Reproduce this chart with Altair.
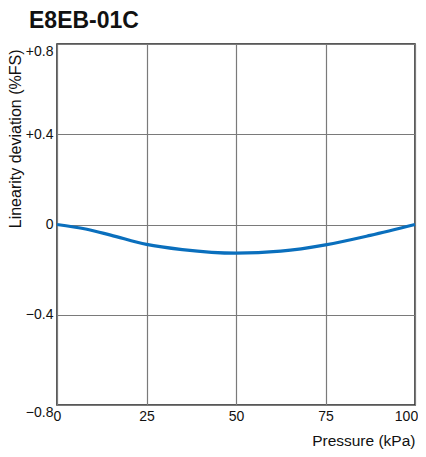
import altair as alt
import pandas as pd

pressure = [0, 8, 15, 25, 35, 50, 62.5, 75, 87.5, 100]
deviation = [0, -0.02, -0.047, -0.088, -0.111, -0.127, -0.118, -0.09, -0.048, 0]
x_ticks = [0, 25, 50, 75, 100]
y_ticks = [-0.8, -0.4, 0, 0.4, 0.8]

df = pd.DataFrame({"p": pressure, "d": deviation})

FONT = "Liberation Sans"
W, H = 358, 361

label_expr_y = ("datum.value > 0 ? '+' + format(datum.value, '.1f') : "
                "(datum.value < 0 ? '\u2212' + format(abs(datum.value), '.1f') : '0')")

chart = alt.Chart(df).mark_line(
    color="#0a6fbd", strokeWidth=3.2, interpolate="monotone"
).encode(
    x=alt.X("p:Q", scale=alt.Scale(domain=[0, 100], nice=False),
            axis=alt.Axis(values=x_ticks, title="Pressure (kPa)", ticks=False,
                          labelPadding=4, labelFontSize=14, labelFont=FONT,
                          labelColor="#111", titleFont=FONT, titleFontSize=15.5,
                          titleFontWeight="normal", titleColor="#111",
                          labelOffset={"condition": {"test": "datum.value == 100", "value": -9}, "value": 0},
                          titleAnchor="end", titleAlign="right", titleX=W,
                          titleY=40, titleBaseline="alphabetic",
                          labelFlush=False, domain=False,
                          grid=True, gridColor="#7a7a7a", gridWidth=1.2)),
    y=alt.Y("d:Q", scale=alt.Scale(domain=[-0.8, 0.8], nice=False),
            axis=alt.Axis(values=y_ticks, title="Linearity deviation (%FS)",
                          labelExpr=label_expr_y, ticks=False, labelPadding=4,
                          labelFontSize=14, labelFont=FONT, labelColor="#111",
                          labelBaseline={"condition": {"test": "abs(datum.value) > 0.7", "value": "top"}, "value": "middle"},
                          labelFlush=False, domain=False,
                          titleFont=FONT, titleFontSize=16, titleFontWeight="normal",
                          titleColor="#111", titleAngle=270, titleAlign="right",
                          titleBaseline="middle", titleX=-42, titleY=5,
                          grid=True, gridColor="#7a7a7a", gridWidth=1.2)),
).properties(
    width=W, height=H,
    title=alt.TitleParams("E8EB-01C", anchor="start", frame="group", dx=-28,
                          font=FONT, fontSize=23, fontWeight="bold",
                          color="#111", offset=11),
    autosize=alt.AutoSizeParams(type="none"),
    padding={"left": 49, "top": 36, "right": 3, "bottom": 44},
).configure_view(stroke="#222", strokeWidth=1.5)

chart.save("out.html", embed_options={"renderer": "svg", "actions": False})
